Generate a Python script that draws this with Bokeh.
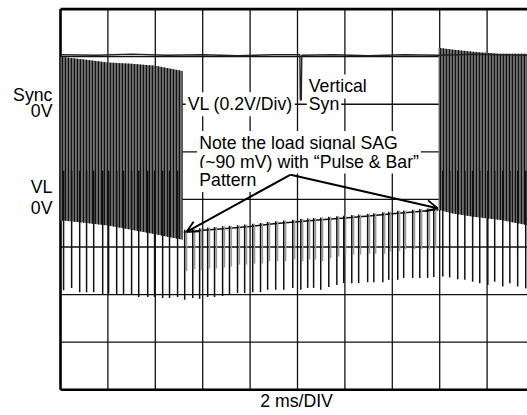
import numpy as np
from bokeh.plotting import figure
from bokeh.models import Range1d, Label, Arrow, OpenHead
from bokeh.embed import file_html
from bokeh.resources import INLINE

# Time axis in ms (2 ms/div), amplitude in screen divisions (0 = bottom of graticule)
x_grid_ticks = [2, 4, 6, 8, 10, 12, 14, 16, 18]
y_grid_ticks = [1, 2, 3, 4, 5, 6, 7]
x_full = 20   # 10 div x 2 ms
y_full = 8    # 8 div

# Sync channel
sync_t = [0.0, 1.5, 3.0, 4.5, 6.0, 7.5, 9.0, 10.10, 10.12, 10.16, 10.18, 11.5, 13.0, 14.5, 16.0, 17.5, 19.72]
sync_v = [7.04, 7.03, 7.05, 7.03, 7.04, 7.02, 7.04, 7.04, 6.09, 6.09, 7.03, 7.04, 7.02, 7.04, 7.03, 7.05, 7.03]

# VL channel: dense active-video blocks (envelope)
left_t = [0.0, 1.0, 2.0, 3.0, 4.0, 5.15]
left_top = [7.00, 6.94, 6.88, 6.85, 6.81, 6.70]
left_bot = [3.56, 3.51, 3.45, 3.36, 3.27, 3.15]

right_t = [15.95, 16.5, 17.5, 18.5, 19.72]
right_top = [7.19, 7.15, 7.10, 7.06, 7.06]
right_bot = [3.78, 3.71, 3.63, 3.57, 3.46]

# VL channel: sagging baseline during the "bar" part
mid_base_t = [5.2, 6.0, 7.0, 8.0, 9.0, 10.0, 11.0, 12.0, 13.0, 14.0, 15.0, 15.95]
mid_base_v = [3.31, 3.35, 3.39, 3.43, 3.49, 3.53, 3.57, 3.61, 3.65, 3.70, 3.74, 3.78]

# VL channel: sync pulses (negative spikes)
left_spike_t = [0.13, 0.47, 0.81, 1.10, 1.40, 1.78, 2.03, 2.37, 2.66, 3.00, 3.30, 3.68, 3.97, 4.31, 4.60, 4.94]
left_spike_v = [2.09, 2.14, 2.05, 2.05, 2.05, 1.99, 2.02, 1.99, 1.99, 1.99, 1.95, 1.95, 1.95, 1.93, 1.93, 1.95]

mid_spike_t = [5.24, 5.58, 5.87, 6.21, 6.50, 6.84, 7.13, 7.47, 7.77, 8.11, 8.44, 8.74, 9.08, 9.42, 9.80,
               10.14, 10.43, 10.68, 10.98, 11.32, 11.66, 11.95, 12.29, 12.58, 12.96, 13.22, 13.60, 13.85,
               14.23, 14.48, 14.86, 15.16, 15.49, 15.75]
mid_spike_v = [1.89, 1.93, 1.91, 1.95, 1.95, 1.97, 1.99, 2.03, 2.03, 2.05, 2.05, 2.10, 2.10, 2.10, 2.14,
               2.10, 2.14, 2.14, 2.10, 2.16, 2.20, 2.24, 2.24, 2.24, 2.26, 2.26, 2.26, 2.31,
               2.31, 2.35, 2.35, 2.35, 2.35, 2.37]

right_spike_t = [16.13, 16.42, 16.76, 17.06, 17.39, 17.69, 18.03, 18.32, 18.66, 18.96, 19.29, 19.63]
right_spike_v = [2.38, 2.36, 2.32, 2.31, 2.27, 2.24, 2.20, 2.27, 2.17, 2.24, 2.17, 2.13]

FONT = "Liberation Sans"
FS = "17.7px"
INK = "#111111"

p = figure(width=527, height=415, output_backend="svg", toolbar_location=None,
           x_range=Range1d(-2.5316, 19.7046), y_range=Range1d(-0.5423, 8.1808),
           x_axis_type=None, y_axis_type=None,
           min_border_left=0, min_border_right=0, min_border_top=0, min_border_bottom=0)
p.outline_line_color = None
p.background_fill_color = "white"
p.border_fill_color = "white"
p.xgrid.visible = False
p.ygrid.visible = False

# graticule
p.segment(x0=x_grid_ticks, y0=[0] * len(x_grid_ticks), x1=x_grid_ticks, y1=[y_full] * len(x_grid_ticks),
          line_color=INK, line_width=1.3)
p.segment(x0=[0] * len(y_grid_ticks), y0=y_grid_ticks, x1=[x_full] * len(y_grid_ticks), y1=y_grid_ticks,
          line_color=INK, line_width=1.3)
p.segment(x0=[0, 0, 0], y0=[0, y_full, 0], x1=[0, x_full, x_full], y1=[y_full, y_full, 0],
          line_color="black", line_width=2.6)

# dense blocks: grey body with many vertical trace lines
for bt, btop, bbot in ((left_t, left_top, left_bot), (right_t, right_top, right_bot)):
    xs = list(bt) + list(bt[::-1])
    ys = list(btop) + list(bbot[::-1])
    p.patch(xs, ys, fill_color="#6e6e6e", line_color=None)
    p.patch(xs, ys, fill_alpha=0, line_color=None,
            hatch_pattern="|", hatch_color=INK, hatch_scale=3, hatch_weight=1.3)

# baseline with sag
p.line(mid_base_t, mid_base_v, line_color=INK, line_width=1.5)

# spikes
blk_top = 4.6
p.segment(x0=left_spike_t, y0=[blk_top] * len(left_spike_t), x1=left_spike_t, y1=left_spike_v,
          line_color=INK, line_width=1.5)
p.segment(x0=right_spike_t, y0=[blk_top] * len(right_spike_t), x1=right_spike_t, y1=right_spike_v,
          line_color=INK, line_width=1.5)
mid_tops = np.interp(mid_spike_t, mid_base_t, mid_base_v) + 0.05
p.segment(x0=np.array(mid_spike_t) + 0.08, y0=mid_tops, x1=np.array(mid_spike_t) + 0.08,
          y1=np.array(mid_spike_v) + 0.6, line_color="#9a9a9a", line_width=1.4)
p.segment(x0=mid_spike_t, y0=mid_tops, x1=mid_spike_t, y1=mid_spike_v,
          line_color=INK, line_width=1.5)

# sync trace on top
p.line(sync_t, sync_v, line_color="#222222", line_width=1.4)

# left channel labels
for txt, yy in (("Sync", 6.19), ("0V", 5.86), ("VL", 4.26), ("0V", 3.82)):
    p.add_layout(Label(x=-0.34, y=yy, text=txt, text_align="right", text_baseline="alphabetic",
                       text_font=FONT, text_font_size=FS, text_color="black"))

# annotations with white background
for txt, xx, yy in (("VL (0.2V/Div)", 5.28, 6.0),
                    ("Vertical", 10.39, 6.375),
                    ("Syn", 10.39, 6.0),
                    ("Note the load signal SAG", 5.77, 5.185),
                    ("(~90 mV) with \u201cPulse & Bar\u201d", 5.77, 4.795),
                    ("Pattern", 5.77, 4.41)):
    p.add_layout(Label(x=xx, y=yy, text=txt, text_align="left", text_baseline="alphabetic",
                       text_font=FONT, text_font_size=FS, text_color="black",
                       background_fill_color="white", padding=2))

apex = (9.71, 4.52)
p.add_layout(Arrow(end=OpenHead(size=11, line_width=1.8, line_color="black"),
                   x_start=apex[0], y_start=apex[1], x_end=5.32, y_end=3.32,
                   line_width=2, line_color="black"))
p.add_layout(Arrow(end=OpenHead(size=11, line_width=1.8, line_color="black"),
                   x_start=apex[0], y_start=apex[1], x_end=15.91, y_end=3.815,
                   line_width=2, line_color="black"))

p.add_layout(Label(x=9.96, y=-0.24, text="2 ms/DIV", text_align="center", text_baseline="alphabetic",
                   text_font=FONT, text_font_size=FS, text_color="black"))

open("out.html", "w").write(file_html(p, INLINE))
